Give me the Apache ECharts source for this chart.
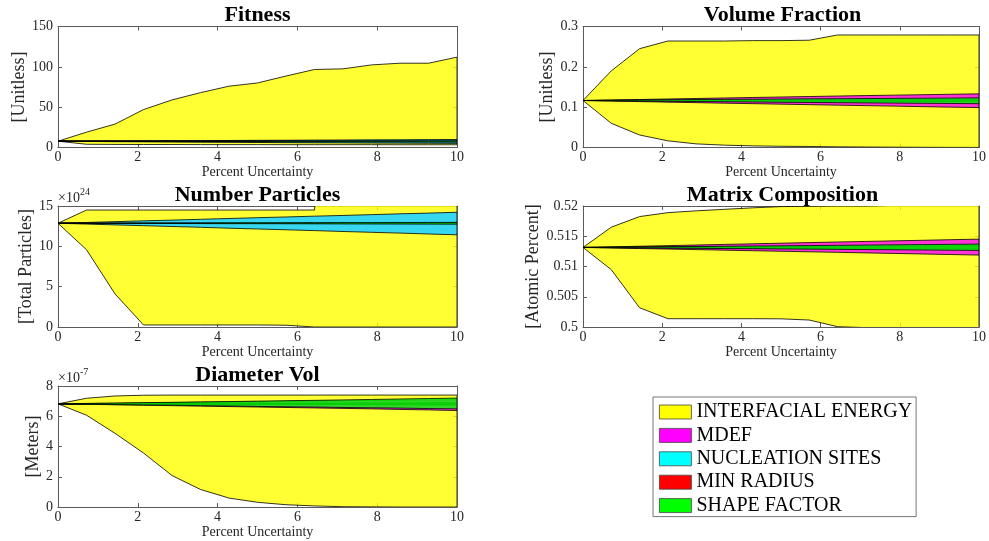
<!DOCTYPE html>
<html>
<head>
<meta charset="utf-8">
<script src="https://cdn.jsdelivr.net/npm/echarts@6/dist/echarts.min.js"></script>
<style>
  html, body { margin: 0; padding: 0; background: #fff; }
  #main { width: 989px; height: 541px; }
</style>
</head>
<body>
<div id="main"></div>
<script>
// Sweep of percent uncertainty (x values shared by every panel)
const pct = [0, 0.714, 1.429, 2.143, 2.857, 3.571, 4.286, 5, 5.714, 6.429, 7.143, 7.857, 8.571, 9.286, 10];

const paramNames = ['INTERFACIAL ENERGY', 'MDEF', 'NUCLEATION SITES', 'MIN RADIUS', 'SHAPE FACTOR'];

// ---- Fitness [Unitless]: upper / lower envelope per parameter
const fitIeHi = [7.8, 19, 29, 47, 59, 68, 76, 80, 88.6, 96.7, 97.5, 102.4, 104.5, 104.5, 112];
const fitIeLo = [7.8, 4.0, 3.8, 3.7, 3.7, 3.6, 3.6, 3.6, 3.5, 3.5, 3.5, 3.5, 3.4, 3.4, 3.4];
const fitMdHi = [7.8, 7.9, 8.0, 8.0, 8.1, 8.1, 8.2, 8.3, 8.3, 8.4, 8.4, 8.5, 8.6, 8.6, 8.7];
const fitMdLo = [7.8, 7.6, 7.5, 7.4, 7.3, 7.2, 7.1, 7.0, 6.9, 6.8, 6.7, 6.6, 6.5, 6.4, 6.3];
const fitNsHi = [7.8, 8.0, 8.1, 8.3, 8.4, 8.6, 8.7, 8.9, 9.0, 9.2, 9.3, 9.5, 9.6, 9.8, 9.9];
const fitNsLo = [7.8, 7.5, 7.2, 7.0, 6.8, 6.6, 6.4, 6.2, 6.0, 5.8, 5.7, 5.5, 5.4, 5.2, 5.1];
const fitMrHi = [7.8, 7.8, 7.9, 7.9, 7.9, 7.9, 8.0, 8.0, 8.0, 8.0, 8.1, 8.1, 8.1, 8.1, 8.2];
const fitMrLo = [7.8, 7.7, 7.7, 7.6, 7.6, 7.5, 7.5, 7.4, 7.4, 7.3, 7.3, 7.2, 7.2, 7.1, 7.1];
const fitSfHi = [7.8, 7.8, 7.8, 7.9, 7.9, 7.9, 7.9, 8.0, 8.0, 8.0, 8.0, 8.1, 8.1, 8.1, 8.1];
const fitSfLo = [7.8, 7.7, 7.6, 7.6, 7.5, 7.4, 7.4, 7.3, 7.2, 7.2, 7.1, 7.0, 7.0, 6.9, 6.8];

// ---- Volume Fraction [Unitless]
const vfIeHi = [0.1165, 0.190, 0.245, 0.264, 0.264, 0.264, 0.265, 0.265, 0.266, 0.279, 0.279, 0.279, 0.279, 0.279, 0.279];
const vfIeLo = [0.1165, 0.060, 0.031, 0.0165, 0.009, 0.0058, 0.004, 0.003, 0.0025, 0.0017, 0.0012, 0.0008, 0.0005, 0.0003, 0.0002];
const vfMdHi = [0.1165, 0.1178, 0.1190, 0.1203, 0.1215, 0.1228, 0.1240, 0.1252, 0.1264, 0.1276, 0.1287, 0.1298, 0.1309, 0.1320, 0.1330];
const vfMdLo = [0.1165, 0.1152, 0.1138, 0.1125, 0.1112, 0.1099, 0.1087, 0.1075, 0.1062, 0.1050, 0.1038, 0.1026, 0.1013, 0.1001, 0.0990];
const vfNsHi = [0.1165, 0.1167, 0.1169, 0.1171, 0.1173, 0.1175, 0.1177, 0.1179, 0.1181, 0.1183, 0.1185, 0.1187, 0.1189, 0.1191, 0.1193];
const vfNsLo = [0.1165, 0.1163, 0.1161, 0.1159, 0.1157, 0.1155, 0.1153, 0.1151, 0.1149, 0.1147, 0.1145, 0.1143, 0.1141, 0.1139, 0.1137];
const vfMrHi = [0.1165, 0.1166, 0.1167, 0.1168, 0.1169, 0.1170, 0.1171, 0.1172, 0.1173, 0.1174, 0.1175, 0.1176, 0.1177, 0.1178, 0.1179];
const vfMrLo = [0.1165, 0.1164, 0.1163, 0.1162, 0.1161, 0.1160, 0.1159, 0.1158, 0.1157, 0.1156, 0.1155, 0.1154, 0.1153, 0.1152, 0.1151];
const vfSfHi = [0.1165, 0.1172, 0.1178, 0.1184, 0.1189, 0.1194, 0.1198, 0.1202, 0.1206, 0.1210, 0.1214, 0.1218, 0.1222, 0.1226, 0.1230];
const vfSfLo = [0.1165, 0.1158, 0.1152, 0.1146, 0.1140, 0.1134, 0.1128, 0.1122, 0.1117, 0.1111, 0.1106, 0.1101, 0.1096, 0.1091, 0.1086];

// ---- Number Particles [Total Particles], in units of 1e24
const npIeHi = [12.86, 14.5, 14.5, 14.5, 14.5, 14.5, 14.5, 14.5, 14.5, 14.5, 60, 60, 60, 60, 60];
const npIeLo = [12.86, 9.58, 4.1, 0.25, 0.25, 0.25, 0.25, 0.25, 0.22, 0, 0, 0, 0, 0, 0];
const npMdHi = [12.86, 12.87, 12.87, 12.88, 12.88, 12.89, 12.89, 12.90, 12.90, 12.91, 12.91, 12.92, 12.92, 12.93, 12.93];
const npMdLo = [12.86, 12.85, 12.85, 12.84, 12.84, 12.83, 12.83, 12.82, 12.82, 12.81, 12.81, 12.80, 12.80, 12.79, 12.79];
const npNsHi = [12.86, 12.96, 13.06, 13.16, 13.25, 13.35, 13.45, 13.55, 13.64, 13.74, 13.83, 13.93, 14.03, 14.12, 14.22];
const npNsLo = [12.86, 12.76, 12.66, 12.56, 12.46, 12.36, 12.25, 12.15, 12.05, 11.95, 11.84, 11.74, 11.64, 11.53, 11.43];
const npMrHi = [12.86, 12.86, 12.87, 12.87, 12.87, 12.88, 12.88, 12.88, 12.89, 12.89, 12.89, 12.90, 12.90, 12.90, 12.91];
const npMrLo = [12.86, 12.86, 12.85, 12.85, 12.85, 12.84, 12.84, 12.84, 12.83, 12.83, 12.83, 12.82, 12.82, 12.82, 12.81];
const npSfHi = [12.86, 12.87, 12.88, 12.88, 12.89, 12.90, 12.91, 12.91, 12.92, 12.93, 12.94, 12.94, 12.95, 12.96, 12.97];
const npSfLo = [12.86, 12.85, 12.84, 12.84, 12.83, 12.82, 12.81, 12.81, 12.80, 12.79, 12.78, 12.78, 12.77, 12.76, 12.75];

// ---- Matrix Composition [Atomic Percent]
const mcIeHi = [0.51315, 0.5165, 0.51825, 0.5189, 0.5192, 0.51945, 0.5197, 0.5199, 0.51995, 0.5200, 0.5200, 0.5201, 0.5201, 0.5201, 0.5201];
const mcIeLo = [0.51315, 0.50948, 0.50318, 0.50137, 0.50137, 0.50137, 0.50137, 0.50135, 0.50115, 0.50005, 0.4999, 0.4999, 0.4999, 0.4999, 0.4999];
const mcMdHi = [0.51315, 0.51325, 0.51335, 0.51345, 0.51355, 0.51365, 0.51375, 0.51385, 0.51395, 0.51405, 0.51414, 0.51424, 0.51433, 0.51443, 0.51452];
const mcMdLo = [0.51315, 0.51306, 0.51297, 0.51288, 0.51279, 0.51270, 0.51261, 0.51252, 0.51243, 0.51234, 0.51225, 0.51216, 0.51207, 0.51198, 0.51189];
const mcNsHi = [0.51315, 0.51317, 0.51319, 0.51321, 0.51323, 0.51325, 0.51327, 0.51329, 0.51331, 0.51333, 0.51335, 0.51337, 0.51339, 0.51341, 0.51343];
const mcNsLo = [0.51315, 0.51313, 0.51311, 0.51309, 0.51307, 0.51305, 0.51303, 0.51301, 0.51299, 0.51297, 0.51295, 0.51293, 0.51291, 0.51289, 0.51287];
const mcMrHi = [0.51315, 0.51316, 0.51317, 0.51318, 0.51319, 0.51320, 0.51321, 0.51322, 0.51323, 0.51324, 0.51325, 0.51326, 0.51327, 0.51328, 0.51329];
const mcMrLo = [0.51315, 0.51314, 0.51313, 0.51312, 0.51311, 0.51310, 0.51309, 0.51308, 0.51307, 0.51306, 0.51305, 0.51304, 0.51303, 0.51302, 0.51301];
const mcSfHi = [0.51315, 0.51319, 0.51323, 0.51327, 0.51331, 0.51335, 0.51339, 0.51342, 0.51346, 0.51350, 0.51354, 0.51358, 0.51362, 0.51366, 0.51370];
const mcSfLo = [0.51315, 0.51311, 0.51308, 0.51304, 0.51301, 0.51297, 0.51294, 0.51290, 0.51287, 0.51283, 0.51280, 0.51276, 0.51273, 0.51269, 0.51266];

// ---- Diameter Vol [Meters], in units of 1e-7
const dvIeHi = [6.82, 7.19, 7.34, 7.39, 7.40, 7.40, 7.40, 7.40, 7.40, 7.40, 7.40, 7.40, 7.40, 7.40, 7.40];
const dvIeLo = [6.82, 6.07, 4.87, 3.57, 2.08, 1.16, 0.59, 0.31, 0.15, 0.07, 0.02, 0.01, 0, 0, 0];
const dvMdHi = [6.82, 6.84, 6.86, 6.88, 6.90, 6.92, 6.94, 6.96, 6.98, 7.00, 7.02, 7.04, 7.06, 7.08, 7.10];
const dvMdLo = [6.82, 6.79, 6.76, 6.73, 6.70, 6.67, 6.64, 6.61, 6.58, 6.55, 6.52, 6.49, 6.45, 6.42, 6.38];
const dvNsHi = [6.82, 6.83, 6.83, 6.84, 6.84, 6.85, 6.85, 6.86, 6.86, 6.87, 6.87, 6.88, 6.88, 6.89, 6.89];
const dvNsLo = [6.82, 6.81, 6.81, 6.80, 6.80, 6.79, 6.79, 6.78, 6.78, 6.77, 6.77, 6.76, 6.76, 6.75, 6.75];
const dvMrHi = [6.82, 6.82, 6.83, 6.83, 6.83, 6.84, 6.84, 6.84, 6.85, 6.85, 6.85, 6.86, 6.86, 6.86, 6.87];
const dvMrLo = [6.82, 6.82, 6.81, 6.81, 6.81, 6.80, 6.80, 6.80, 6.79, 6.79, 6.79, 6.78, 6.78, 6.78, 6.77];
const dvSfHi = [6.82, 6.85, 6.87, 6.90, 6.92, 6.95, 6.97, 7.00, 7.03, 7.05, 7.08, 7.11, 7.14, 7.17, 7.20];
const dvSfLo = [6.82, 6.80, 6.77, 6.75, 6.73, 6.70, 6.68, 6.65, 6.63, 6.61, 6.58, 6.56, 6.54, 6.51, 6.49];

// Panel definitions: title, y label, y range, exponent tag, bands (in legend order)
const panels = [
  { title: 'Fitness', ylabel: '[Unitless]', ymin: 0, ymax: 150, yint: 50, exp: null,
    left: 58, top: 26.5, nameGap: 30,
    bands: [[fitIeHi, fitIeLo], [fitMdHi, fitMdLo], [fitNsHi, fitNsLo], [fitMrHi, fitMrLo], [fitSfHi, fitSfLo]] },
  { title: 'Volume Fraction', ylabel: '[Unitless]', ymin: 0, ymax: 0.3, yint: 0.1, exp: null,
    left: 583, top: 26.5, nameGap: 26,
    bands: [[vfIeHi, vfIeLo], [vfMdHi, vfMdLo], [vfNsHi, vfNsLo], [vfMrHi, vfMrLo], [vfSfHi, vfSfLo]] },
  { title: 'Number Particles', ylabel: '[Total Particles]', ymin: 0, ymax: 15, yint: 5, exp: '24',
    left: 58, top: 206, nameGap: 22,
    bands: [[npIeHi, npIeLo], [npMdHi, npMdLo], [npNsHi, npNsLo], [npMrHi, npMrLo], [npSfHi, npSfLo]] },
  { title: 'Matrix Composition', ylabel: '[Atomic Percent]', ymin: 0.5, ymax: 0.52, yint: 0.005, exp: null,
    left: 583, top: 206, nameGap: 41,
    bands: [[mcIeHi, mcIeLo], [mcMdHi, mcMdLo], [mcNsHi, mcNsLo], [mcMrHi, mcMrLo], [mcSfHi, mcSfLo]] },
  { title: 'Diameter Vol', ylabel: '[Meters]', ymin: 0, ymax: 8, yint: 2, exp: '-7',
    left: 58, top: 386, nameGap: 16,
    bands: [[dvIeHi, dvIeLo], [dvMdHi, dvMdLo], [dvNsHi, dvNsLo], [dvMrHi, dvMrLo], [dvSfHi, dvSfLo]] }
];

const fillColors = ['rgba(255,255,0,0.8)', 'rgba(255,0,255,0.8)', 'rgba(40,212,255,0.93)', 'rgba(255,0,0,0.8)', 'rgba(0,255,0,0.8)'];
const swatchColors = ['#ffff00', '#ff00ff', '#00ffff', '#ff0000', '#00ff00'];

const FONT = '"Liberation Serif", "DejaVu Serif", serif';
const AXIS_COLOR = '#5a5a5a';
const TEXT_COLOR = '#262626';
const PW = 399, PH = 121;

const grids = [], xAxes = [], yAxes = [], titles = [], series = [];

// A filled envelope: the polygon runs along the upper edge and back along the lower edge,
// mapped to pixels by the axis scales, and clipped to the plotting box.
function bandRenderer(hi, lo, fill) {
  return function (params, api) {
    if (params.dataIndex !== 0) return null;
    const pts = [];
    for (let i = 0; i < pct.length; i++) pts.push(api.coord([pct[i], hi[i]]));
    for (let i = pct.length - 1; i >= 0; i--) pts.push(api.coord([pct[i], lo[i]]));
    const cs = params.coordSys;
    return {
      type: 'group',
      clipPath: { type: 'rect', shape: { x: cs.x, y: cs.y, width: cs.width, height: cs.height } },
      children: [{
        type: 'polygon',
        shape: { points: pts },
        style: { fill: fill, stroke: '#000', lineWidth: 0.8, lineJoin: 'round' }
      }]
    };
  };
}

panels.forEach((p, g) => {
  grids.push({ left: p.left, top: p.top, width: PW, height: PH, containLabel: false });
  titles.push({
    text: p.title, left: p.left + PW / 2, top: p.top - 22, textAlign: 'center', padding: 0,
    textStyle: { fontFamily: FONT, fontSize: 22, fontWeight: 'bold', color: '#000', lineHeight: 22 }
  });
  const tick = { show: true, inside: true, length: 4, lineStyle: { color: AXIS_COLOR, width: 1 } };
  const line = { show: true, onZero: false, lineStyle: { color: AXIS_COLOR, width: 1 } };
  xAxes.push({
    type: 'value', gridIndex: g, position: 'bottom', min: 0, max: 10, interval: 2,
    axisLine: line, axisTick: tick, splitLine: { show: false },
    axisLabel: { margin: 3, fontFamily: FONT, fontSize: 14, color: TEXT_COLOR },
    name: 'Percent Uncertainty', nameLocation: 'middle', nameGap: 17,
    nameTextStyle: { fontFamily: FONT, fontSize: 14, color: TEXT_COLOR }
  });
  xAxes.push({
    type: 'value', gridIndex: g, position: 'top', min: 0, max: 10, interval: 2,
    axisLine: line, axisTick: tick, axisLabel: { show: false }, splitLine: { show: false }
  });
  yAxes.push({
    type: 'value', gridIndex: g, position: 'left', min: p.ymin, max: p.ymax, interval: p.yint,
    axisLine: line, axisTick: tick, splitLine: { show: false },
    axisLabel: { margin: 5, fontFamily: FONT, fontSize: 14, color: TEXT_COLOR },
    name: p.ylabel, nameLocation: 'middle', nameGap: p.nameGap,
    nameTextStyle: { fontFamily: FONT, fontSize: 18, color: TEXT_COLOR }
  });
  yAxes.push({
    type: 'value', gridIndex: g, position: 'right', min: p.ymin, max: p.ymax, interval: p.yint,
    axisLine: line, axisTick: tick, axisLabel: { show: false }, splitLine: { show: false },
    // exponent tag shown above the top-left corner of the box
    name: p.exp ? '{a|×10}{b|' + p.exp + '}' : '', nameLocation: 'end', nameGap: 1,
    nameTextStyle: {
      align: 'left', verticalAlign: 'bottom', padding: [0, 0, 0, -PW],
      rich: {
        a: { fontFamily: FONT, fontSize: 14, color: TEXT_COLOR, verticalAlign: 'bottom', lineHeight: 18 },
        b: { fontFamily: FONT, fontSize: 10, color: TEXT_COLOR, verticalAlign: 'top', lineHeight: 18 }
      }
    }
  });

  p.bands.forEach((band, k) => {
    const hi = band[0], lo = band[1];
    series.push({
      type: 'custom', name: paramNames[k],
      xAxisIndex: 2 * g, yAxisIndex: 2 * g,
      silent: true, animation: false,
      itemStyle: { color: swatchColors[k] },
      data: pct.map((x, i) => [x, lo[i], hi[i]]),
      encode: { x: 0, y: [1, 2] },
      renderItem: bandRenderer(hi, lo, fillColors[k]),
      z: 2 + k
    });
  });
});

const chart = echarts.init(document.getElementById('main'), null, { renderer: 'canvas' });
chart.setOption({
  animation: false,
  backgroundColor: '#fff',
  title: titles,
  grid: grids,
  xAxis: xAxes,
  yAxis: yAxes,
  legend: {
    orient: 'vertical', left: 653, top: 397, selectedMode: false,
    padding: [5, 4, 1, 6], itemGap: 3.4, itemWidth: 32, itemHeight: 14, itemTextGap: 4,
    backgroundColor: '#fff', borderColor: '#777', borderWidth: 1, borderRadius: 0,
    textStyle: { fontFamily: FONT, fontSize: 20, color: '#000', lineHeight: 16 },
    data: paramNames.map((n, k) => ({
      name: n, icon: 'rect',
      itemStyle: { color: swatchColors[k], borderColor: '#444', borderWidth: 0.8 }
    }))
  },
  series: series
});
</script>
</body>
</html>
